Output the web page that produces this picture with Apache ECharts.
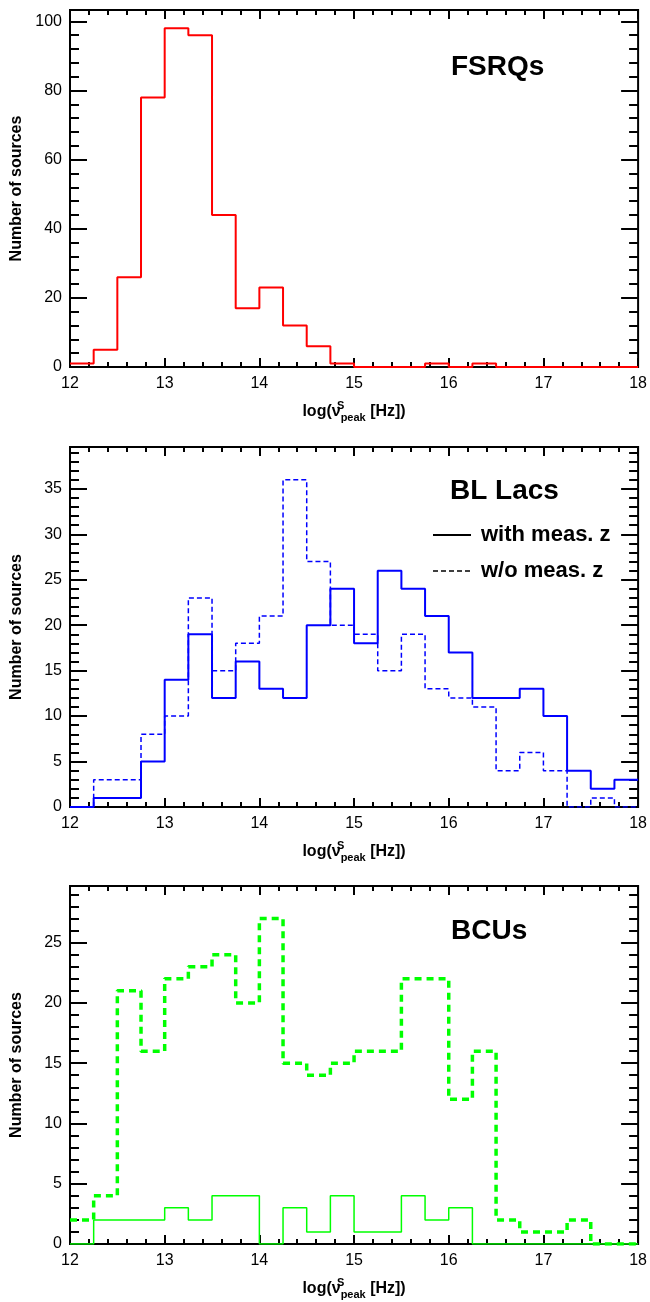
<!DOCTYPE html>
<html>
<head>
  <meta charset="utf-8">
  <title>Synchrotron peak frequency distributions</title>
  <script src="https://fastly.jsdelivr.net/npm/echarts@6/dist/echarts.min.js"></script>
</head>
<body style="margin:0;background:#fff;">
<div id="chart-container" style="width:650px;height:1302px;"></div>
<script type="text/javascript">
  // histogram bins in log(nu_peak), 0.25 wide
  var binEdges = [12, 12.25, 12.5, 12.75, 13, 13.25, 13.5, 13.75, 14, 14.25, 14.5, 14.75,
                  15, 15.25, 15.5, 15.75, 16, 16.25, 16.5, 16.75, 17, 17.25, 17.5, 17.75, 18];

  var fsrqCounts = [1, 5, 26, 78, 98, 96, 44, 17, 23, 12, 6, 1, 0, 0, 0, 1, 0, 1, 0, 0, 0, 0, 0, 0];
  var bllacWithZ = [0, 1, 1, 5, 14, 19, 12, 16, 13, 12, 20, 24, 18, 26, 24, 21, 17, 12, 12, 13, 10, 4, 2, 3];
  var bllacNoZ   = [0, 3, 3, 8, 10, 23, 15, 18, 21, 36, 27, 20, 19, 15, 19, 13, 12, 11, 4, 6, 4, 0, 1, 0];
  var bcuWithZ   = [0, 2, 2, 2, 3, 2, 4, 4, 0, 3, 1, 4, 1, 1, 4, 2, 3, 0, 0, 0, 0, 0, 0, 0];
  var bcuNoZ     = [2, 4, 21, 16, 22, 23, 24, 20, 27, 15, 14, 15, 16, 16, 22, 22, 12, 16, 2, 1, 1, 2, 0, 0];

  var panelTitles = ['FSRQs', 'BL Lacs', 'BCUs'];
  var legendNames = ['with meas. z', 'w/o meas. z'];
  var yMax = [103.3, 39.6, 29.7];
  var yMajorStep = [20, 5, 5];
  var yMinorStep = [4, 1, 1];

  var FONT = '"Liberation Sans", Arial, Helvetica, sans-serif';

  function steps(counts) {
    return binEdges.map(function (x, i) {
      return [x, counts[Math.min(i, counts.length - 1)]];
    });
  }

  var dom = document.getElementById('chart-container');
  var myChart = echarts.init(dom, null, { renderer: 'canvas' });

  var grids = [
    { left: 70, right: 8, top: 10, height: 357 },
    { left: 70, right: 8, top: 447, height: 360 },
    { left: 70, right: 8, top: 886, height: 358 }
  ];
  grids.forEach(function (g) {
    g.show = true;
    g.borderColor = '#000';
    g.borderWidth = 2;
    g.backgroundColor = 'transparent';
  });

  var xName = '{n|log(ν}{sup|S}{sub|peak}{n| [Hz])}';
  var xAxes = [];
  var yAxes = [];
  grids.forEach(function (g, i) {
    ['bottom', 'top'].forEach(function (pos) {
      xAxes.push({
        type: 'value', gridIndex: i, position: pos,
        min: 12, max: 18, interval: 1,
        axisLine: { show: false, onZero: false },
        axisTick: { show: true, inside: true, length: 9, lineStyle: { color: '#000', width: 2 } },
        minorTick: { show: true, splitNumber: 5, length: 5, lineStyle: { color: '#000', width: 2 } },
        splitLine: { show: false },
        axisLabel: { show: pos === 'bottom', fontSize: 16, color: '#000', margin: 9, fontFamily: FONT },
        name: pos === 'bottom' ? xName : '',
        nameLocation: 'middle',
        nameGap: 33,
        nameTextStyle: {
          color: '#000',
          rich: {
            n: { fontSize: 16, fontWeight: 'bold', fontFamily: FONT, color: '#000' },
            sup: { fontSize: 11, fontWeight: 'bold', fontFamily: FONT, color: '#000', width: 0, padding: [0, 0, 13, 0] },
            sub: { fontSize: 11, fontWeight: 'bold', fontFamily: FONT, color: '#000', padding: [11, 0, 0, 0] }
          }
        }
      });
    });
    [
      ['left', yMajorStep[i], 17, true],
      ['left', yMinorStep[i], 9, false],
      ['right', yMajorStep[i], 17, false],
      ['right', yMinorStep[i], 9, false]
    ].forEach(function (a) {
      yAxes.push({
        type: 'value', gridIndex: i, position: a[0],
        min: 0, max: yMax[i], interval: a[1],
        axisLine: { show: false, onZero: false },
        axisTick: { show: true, inside: true, length: a[2], lineStyle: { color: '#000', width: 2 } },
        splitLine: { show: false },
        axisLabel: {
          show: a[3], fontSize: 16, color: '#000', margin: 8, fontFamily: FONT,
          showMaxLabel: false
        },
        name: a[3] ? 'Number of sources' : '',
        nameLocation: 'middle',
        nameGap: 45,
        nameTextStyle: { fontSize: 16, fontWeight: 'bold', color: '#000', fontFamily: FONT }
      });
    });
  });

  function histSeries(name, counts, panel, color, width, type) {
    return {
      name: name, type: 'line', step: 'end',
      xAxisIndex: panel * 2, yAxisIndex: panel * 4,
      data: steps(counts),
      symbol: 'none', silent: true,
      lineStyle: { color: color, width: width, type: type },
      itemStyle: { color: color }
    };
  }

  var option = {
    animation: false,
    backgroundColor: '#fff',
    grid: grids,
    xAxis: xAxes,
    yAxis: yAxes,
    title: [
      { text: panelTitles[0], left: 451, top: 53, padding: 0 },
      { text: panelTitles[1], left: 450, top: 477, padding: 0 },
      { text: panelTitles[2], left: 451, top: 917, padding: 0 }
    ].map(function (t) {
      t.textStyle = { fontSize: 28, fontWeight: 'bold', color: '#000', fontFamily: FONT };
      return t;
    }),
    legend: {
      data: [
        { name: legendNames[0], itemStyle: { opacity: 0 }, lineStyle: { color: '#000', width: 2, type: 'solid' } },
        { name: legendNames[1], itemStyle: { opacity: 0 }, lineStyle: { color: '#000', width: 1.5, type: [5, 3] } }
      ],
      orient: 'vertical', left: 432, top: 524, padding: 0,
      itemWidth: 38, itemHeight: 14, itemGap: 14,
      selectedMode: false,
      textStyle: { fontSize: 22, fontWeight: 'bold', color: '#000', fontFamily: FONT, lineHeight: 22, padding: [0, 0, 0, 5] }
    },
    series: [
      histSeries('FSRQs', fsrqCounts, 0, '#ff0000', 2, 'solid'),
      histSeries(legendNames[0], bllacWithZ, 1, '#0000ff', 2, 'solid'),
      histSeries(legendNames[1], bllacNoZ, 1, '#0000ff', 1.5, [5, 3]),
      histSeries('BCUs w/o z', bcuNoZ, 2, '#00ff00', 3.5, [7, 5]),
      histSeries('BCUs with z', bcuWithZ, 2, '#00ff00', 1.5, 'solid')
    ]
  };

  myChart.setOption(option);
  window.addEventListener('resize', myChart.resize);
</script>
</body>
</html>
